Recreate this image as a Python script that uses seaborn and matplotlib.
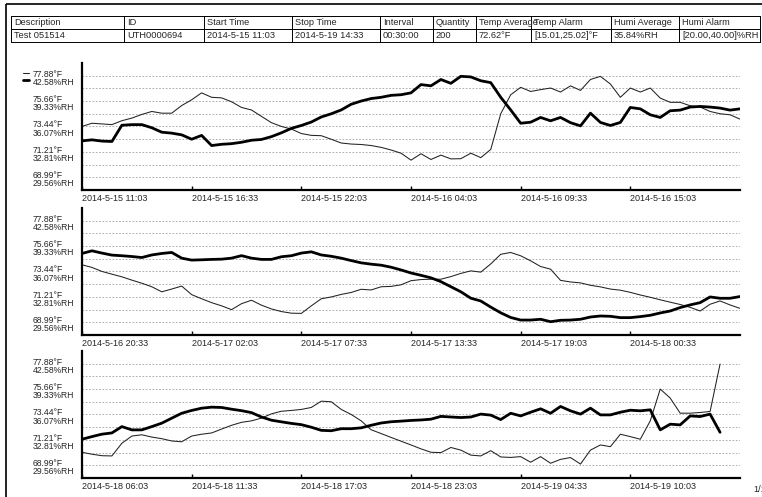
import matplotlib
matplotlib.use('Agg')
import numpy as np
import pandas as pd
import matplotlib.pyplot as plt
import matplotlib.transforms as mtransforms
import seaborn as sns
from matplotlib.patches import Rectangle

sns.set_style('white')
plt.rcParams['font.family'] = ['Liberation Sans', 'DejaVu Sans']
plt.rcParams['font.size'] = 6.5

# header table
header_cols = ['Description', 'ID', 'Start Time', 'Stop Time', 'Interval', 'Quantity',
               'Temp Average', 'Temp Alarm', 'Humi Average', 'Humi Alarm']
header_vals = ['Test 051514', 'UTH0000694', '2014-5-15 11:03', '2014-5-19 14:33', '00:30:00', '200',
               '72.62°F', '[15.01,25.02]°F', '35.84%RH', '[20.00,40.00]%RH']

# y axis levels (temperature and humidity share the same rows)
temp_ticks = [68.99, 71.21, 73.44, 75.66, 77.88]
humi_ticks = [29.56, 32.81, 36.07, 39.33, 42.58]

# x tick labels, one tick every 11 readings
times_p1 = ['2014-5-15 11:03', '2014-5-15 16:33', '2014-5-15 22:03', '2014-5-16 04:03', '2014-5-16 09:33', '2014-5-16 15:03']
times_p2 = ['2014-5-16 20:33', '2014-5-17 02:03', '2014-5-17 07:33', '2014-5-17 13:33', '2014-5-17 19:03', '2014-5-18 00:33']
times_p3 = ['2014-5-18 06:03', '2014-5-18 11:33', '2014-5-18 17:03', '2014-5-18 23:03', '2014-5-19 04:33', '2014-5-19 10:03']

# readings (30 min interval)
temp_p1 = [73.44, 73.72, 73.66, 73.60, 73.94, 74.17, 74.49, 74.75, 74.60, 74.60,
           75.27, 75.77, 76.38, 75.99, 75.94, 75.60, 75.10, 74.88, 74.32, 73.77,
           73.44, 73.21, 72.82, 72.66, 72.63, 72.32, 71.99, 71.90, 71.86, 71.77,
           71.61, 71.38, 71.10, 70.49, 71.05, 70.55, 70.93, 70.60, 70.62, 71.10,
           70.71, 71.43, 74.55, 76.21, 76.86, 76.50, 76.66, 76.80, 76.45, 76.99,
           76.59, 77.55, 77.82, 77.15, 75.99, 76.80, 76.45, 76.80, 75.92, 75.55,
           75.55, 75.25, 75.14, 74.75, 74.55, 74.46, 74.08]
humi_p1 = [34.23, 34.36, 34.20, 34.15, 36.23, 36.31, 36.31, 35.91, 35.34, 35.22,
           35.00, 34.44, 34.93, 33.63, 33.79, 33.87, 34.05, 34.31, 34.41, 34.77,
           35.26, 35.83, 36.20, 36.64, 37.29, 37.70, 38.19, 38.92, 39.33, 39.65,
           39.81, 40.06, 40.14, 40.38, 41.44, 41.28, 42.09, 41.60, 42.50, 42.42,
           41.93, 41.69, 39.81, 38.19, 36.49, 36.62, 37.23, 36.80, 37.23, 36.56,
           36.15, 37.78, 36.59, 36.20, 36.59, 38.51, 38.33, 37.57, 37.23, 38.09,
           38.17, 38.56, 38.64, 38.56, 38.43, 38.17, 38.33]
temp_p2 = [74.02, 73.79, 73.44, 73.20, 72.97, 72.68, 72.41, 72.10, 71.66, 71.90,
           72.16, 71.41, 71.05, 70.71, 70.43, 70.10, 70.62, 70.92, 70.49, 70.16,
           69.93, 69.79, 69.77, 70.43, 71.05, 71.21, 71.43, 71.60, 71.88, 71.82,
           72.10, 72.13, 72.27, 72.63, 72.73, 72.76, 72.76, 72.99, 73.27, 73.49,
           73.38, 74.10, 74.94, 75.10, 74.81, 74.37, 73.87, 73.64, 72.66, 72.52,
           72.44, 72.23, 72.09, 71.90, 71.80, 71.61, 71.38, 71.18, 70.96, 70.75,
           70.55, 70.30, 69.98, 70.57, 70.86, 70.51, 70.21]
humi_p2 = [38.38, 38.72, 38.43, 38.17, 38.09, 37.99, 37.86, 38.19, 38.38, 38.51,
           37.78, 37.53, 37.57, 37.62, 37.65, 37.78, 38.10, 37.78, 37.62, 37.62,
           37.96, 38.09, 38.43, 38.59, 38.19, 38.02, 37.78, 37.47, 37.18, 37.01,
           36.88, 36.62, 36.27, 35.88, 35.58, 35.26, 34.77, 34.12, 33.47, 32.65,
           32.29, 31.51, 30.78, 30.18, 29.85, 29.85, 29.95, 29.64, 29.82, 29.85,
           29.95, 30.24, 30.37, 30.33, 30.16, 30.16, 30.29, 30.46, 30.76, 31.01,
           31.45, 31.79, 32.08, 32.81, 32.64, 32.64, 32.86]
temp_p3 = [70.13, 69.96, 69.83, 69.81, 70.92, 71.55, 71.66, 71.46, 71.32, 71.12,
           71.05, 71.55, 71.71, 71.82, 72.16, 72.49, 72.75, 72.88, 73.12, 73.49,
           73.72, 73.79, 73.88, 74.05, 74.60, 74.55, 73.88, 73.44, 72.88, 72.10,
           71.77, 71.43, 71.10, 70.77, 70.43, 70.13, 70.10, 70.55, 70.32, 69.88,
           69.81, 70.27, 69.72, 69.68, 69.75, 69.26, 69.75, 69.17, 69.51, 69.67,
           69.10, 70.32, 70.77, 70.62, 71.71, 71.50, 71.27, 72.88, 75.66, 74.87,
           73.55, 73.55, 73.61, 73.70, 77.85]
humi_p3 = [32.90, 33.24, 33.55, 33.71, 34.52, 34.10, 34.10, 34.52, 34.96, 35.60,
           36.23, 36.59, 36.88, 37.01, 36.97, 36.75, 36.56, 36.31, 35.75, 35.34,
           35.13, 34.93, 34.77, 34.44, 34.04, 33.99, 34.25, 34.25, 34.36, 34.69,
           34.98, 35.14, 35.22, 35.31, 35.37, 35.47, 35.83, 35.75, 35.68, 35.75,
           36.12, 35.99, 35.42, 36.23, 35.89, 36.36, 36.80, 36.23, 37.10, 36.54,
           36.12, 36.88, 36.02, 36.02, 36.36, 36.62, 36.54, 36.67, 34.10, 34.83,
           34.74, 35.89, 35.81, 36.12, 33.79]

panels = [(temp_p1, humi_p1, times_p1), (temp_p2, humi_p2, times_p2), (temp_p3, humi_p3, times_p3)]

W, H = 762, 497
fig = plt.figure(figsize=(W / 100, H / 100), dpi=100)

# page frame + header table drawn in pixel coordinates
bg = fig.add_axes([0, 0, 1, 1])
bg.set_xlim(0, W)
bg.set_ylim(H, 0)
bg.axis('off')
bg.add_patch(Rectangle((6, 4), 800, 600, fill=False, lw=1.2, color='black'))
col_edges = [11, 124, 204, 292, 380, 433, 476, 531, 611, 679, 760]
row_edges = [16, 29, 42]
for y in row_edges:
    bg.plot([col_edges[0], col_edges[-1]], [y, y], color='black', lw=0.7)
for x in col_edges:
    bg.plot([x, x], [row_edges[0], row_edges[-1]], color='black', lw=0.7)
for i in range(len(header_cols)):
    bg.text(col_edges[i] + 3, 22.8, header_cols[i], va='center', ha='left', fontsize=6.7)
    bg.text(col_edges[i] + 3, 35.8, header_vals[i], va='center', ha='left', fontsize=6.7)
bg.text(753, 489, '1/1', va='center', ha='left', fontsize=6.6)

# y range: half a step beyond the outer labels
t_half = (temp_ticks[1] - temp_ticks[0]) / 2
h_half = (humi_ticks[1] - humi_ticks[0]) / 2
t_minor = [(a + b) / 2 for a, b in zip(temp_ticks[:-1], temp_ticks[1:])]
ylabels = [f'{t:.2f}°F\n{h:.2f}%RH' for t, h in zip(temp_ticks, humi_ticks)]
label_shift = mtransforms.ScaledTranslation(0, -2.6 / 100, fig.dpi_scale_trans)

bottoms = [1 - 190 / H, 1 - 335 / H, 1 - 478 / H]
grid_kw = dict(color='#a0a0a0', linestyle=(0, (2, 2)), linewidth=0.6)
first_lines = None
for (temp, humi, times), b in zip(panels, bottoms):
    ax = fig.add_axes([82 / W, b, 658 / W, 127 / H])
    df = pd.DataFrame({'n': np.arange(len(temp)), 'temp': temp, 'humi': humi})
    sns.lineplot(data=df, x='n', y='temp', ax=ax, color='#222222', linewidth=0.75)
    ax2 = ax.twinx()
    sns.lineplot(data=df, x='n', y='humi', ax=ax2, color='black', linewidth=2.0)
    ax.set_xlim(0, 66)
    ax2.set_xlim(0, 66)
    ax.set_ylim(temp_ticks[0] - t_half, temp_ticks[-1] + t_half)
    ax2.set_ylim(humi_ticks[0] - h_half, humi_ticks[-1] + h_half)
    ax2.axis('off')

    ax.set_yticks(temp_ticks)
    ax.set_yticks(t_minor, minor=True)
    ax.set_yticklabels(ylabels, fontsize=6.2)
    ax.yaxis.grid(True, which='both', **grid_kw)
    ax.xaxis.grid(False)
    ax.tick_params(axis='y', which='both', length=0, pad=35.3)
    for lbl in ax.get_yticklabels():
        lbl.set_ha('left')
        lbl.set_va('center')
        lbl.set_linespacing(0.88)
        lbl.set_transform(lbl.get_transform() + label_shift)

    ax.set_xticks(np.arange(0, 66, 11))
    ax.set_xticklabels(times, ha='left', fontsize=6.5)
    ax.tick_params(axis='x', length=3, width=1, direction='in', pad=3, color='black', bottom=True)
    ax.set_xlabel('')
    ax.set_ylabel('')
    for s in ['top', 'right']:
        ax.spines[s].set_visible(False)
    for s in ['left', 'bottom']:
        ax.spines[s].set_color('black')
        ax.spines[s].set_linewidth(1.6)
    if first_lines is None:
        first_lines = (ax.lines[0], ax2.lines[0])

fig.legend(handles=list(first_lines), labels=['', ''], loc='upper left',
           bbox_to_anchor=(20 / W, 1 - 67 / H), frameon=False, handlelength=0.75,
           handleheight=0.8, handletextpad=0, labelspacing=0.0, borderpad=0, fontsize=5)

fig.savefig('out.png', dpi=100)
